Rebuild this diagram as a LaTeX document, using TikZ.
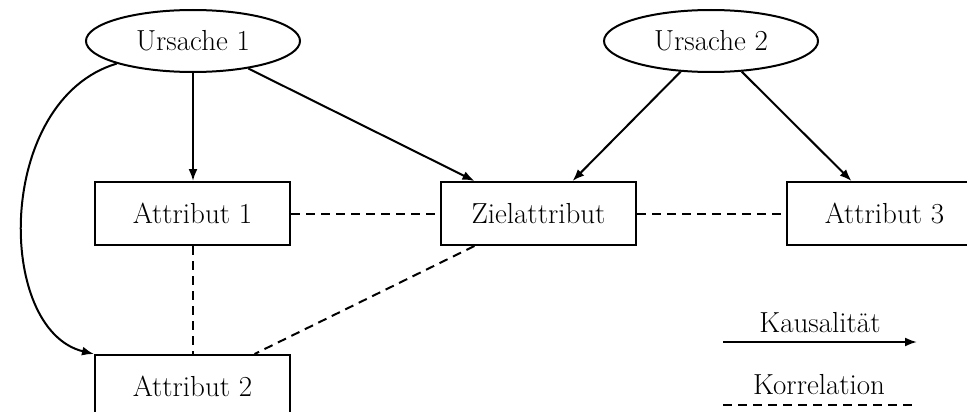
\documentclass[tikz,border=0pt]{standalone}
\usetikzlibrary{shapes.geometric,arrows.meta}
\begin{document}
\begin{tikzpicture}[x=1pt,y=-1pt,
  every node/.style={font=\fontsize{29}{34}\selectfont},
  cause/.style={ellipse,draw,line width=2pt,minimum width=214pt,minimum height=62pt,inner sep=0pt},
  attr/.style={rectangle,draw,line width=2pt,minimum width=195pt,minimum height=63pt,inner sep=0pt},
  causal/.style={line width=2pt,-{Latex[length=12pt,width=9pt]}},
  corr/.style={line width=2pt,dash pattern=on 9pt off 6pt}]
\useasboundingbox (0,0) rectangle (967,412);
% nodes
\node[cause] (u1) at (193,41) {Ursache 1};
\node[cause] (u2) at (711,41) {Ursache 2};
\node[attr] (a1) at (192.5,213.5) {Attribut 1};
\node[attr] (z) at (538.5,213.5) {Zielattribut};
\node[attr] (a3) at (884.5,213.5) {Attribut 3};
\node[attr] (a2) at (192.5,386.5) {Attribut 2};
% causal links
\draw[causal] (u1) -- (u1 |- a1.north);
\draw[causal] (u1) -- ([xshift=-64pt]z.north);
\draw[causal] (u1.south west) .. controls (-5,100) and (-5,330) .. (a2.north west);
\draw[causal] (u2) -- ([xshift=34pt]z.north);
\draw[causal] (u2) -- ([xshift=-33pt]a3.north);
% correlations
\draw[corr] (a1.east) -- (z.west);
\draw[corr] (z.east) -- (a3.west);
\draw[corr] (a1.south) -- (a2.north);
\draw[corr] ([xshift=-64pt]z.south) -- ([xshift=62pt]a2.north);
% legend
\coordinate (k1) at (723,342);
\coordinate (k2) at (917,342);
\coordinate (c1) at (723,405);
\coordinate (c2) at (915,405);
\draw[causal] (k1) -- node[above=5pt] (kl) {Kausalit\"at} (k2);
\draw[corr] (c1) -- node[above=6pt] (cl) {Korrelation} (c2);
\end{tikzpicture}
\end{document}
